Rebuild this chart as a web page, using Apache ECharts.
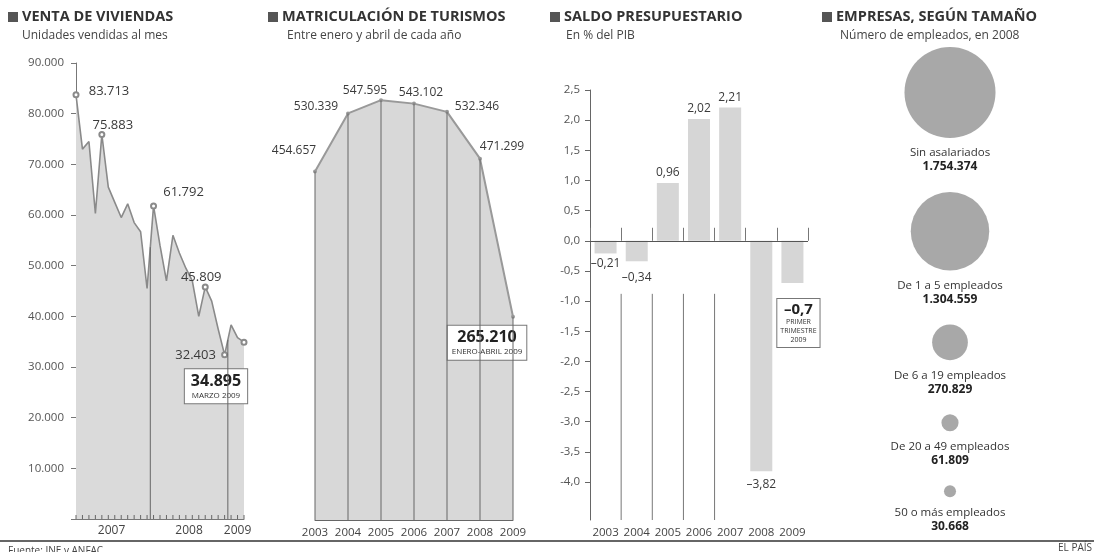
<!DOCTYPE html>
<html><head><meta charset="utf-8">
<script src="https://cdn.jsdelivr.net/npm/echarts@6/dist/echarts.min.js"></script>
<style>html,body{margin:0;padding:0;background:#fff;}#c{width:1094px;height:552px;}</style>
</head><body><div id="c"></div>
<script>
// ---------- DATA ----------
// Panel 1: Venta de viviendas (monthly, Jan 2007 - Mar 2009)
const ventaYears = ['2007', '2008', '2009'];
const ventaMonthsPerYear = [12, 12, 3];
const ventaValues = [83713, 73000, 74500, 60300, 75883, 65500, 62500, 59500, 62200, 58500, 56700, 45500,
                     61792, 54000, 47000, 56000, 52500, 49500, 47000, 40000, 45809, 43000, 37500, 32403,
                     38300, 35800, 34895];
const ventaAnnotated = [0, 4, 12, 20, 23, 26];
// Panel 2: Matriculación de turismos
const matricYears = ['2003', '2004', '2005', '2006', '2007', '2008', '2009'];
const matricValues = [454657, 530339, 547595, 543102, 532346, 471299, 265210];
// Panel 3: Saldo presupuestario (% PIB)
const saldoYears = ['2003', '2004', '2005', '2006', '2007', '2008', '2009'];
const saldoValues = [-0.21, -0.34, 0.96, 2.02, 2.21, -3.82, -0.7];
const saldoTicks = [2.5, 2.0, 1.5, 1.0, 0.5, 0.0, -0.5, -1.0, -1.5, -2.0, -2.5, -3.0, -3.5, -4.0];
// Panel 4: Empresas según tamaño
const empresasNames = ['Sin asalariados', 'De 1 a 5 empleados', 'De 6 a 19 empleados', 'De 20 a 49 empleados', '50 o más empleados'];
const empresasValues = [1754374, 1304559, 270829, 61809, 30668];

// ---------- HELPERS ----------
const FONT = '"Open Sans", "DejaVu Sans", sans-serif';
const TXT = '#3a3a3a';
const fmtK = v => String(v).replace(/\B(?=(\d{3})+(?!\d))/g, '.');
const fmtDec = (v, d) => (v < 0 ? '–' : '') + Math.abs(v).toFixed(d).replace('.', ',');

// Panel 1 axis helpers
let acc = 0;
const yearCenters = [], yearBounds = [];
ventaMonthsPerYear.forEach((n, k) => {
  yearCenters.push(acc + (n - 1) / 2);
  acc += n;
  if (k < ventaMonthsPerYear.length - 1) yearBounds.push(acc - 0.5);
});
const yearLabelMap = {};
yearCenters.forEach((c, k) => yearLabelMap[c] = ventaYears[k]);
const monthTickData = ventaValues.map((v, i) => [i]);

// label placement (style)
const ventaLabelOffsets = {0: [33, -4], 4: [11, -9], 12: [30, -14], 20: [-4, -10], 23: [-29, 0]};
const matricLabelOffsets = [[-21, -21], [-32, -7], [-16, -10], [7, -11], [30, -5], [22, -12]];

const ventaData = ventaValues.map((v, i) => {
  const annotated = ventaAnnotated.indexOf(i) >= 0;
  const item = {value: [i, v], symbol: annotated ? 'emptyCircle' : 'none', symbolSize: 5};
  if (annotated) {
    if (i === ventaValues.length - 1) {
      item.label = {show: true, position: 'inside', offset: [-28, 44],
        formatter: '{b|' + fmtK(v) + '}\n{s|MARZO 2009}',
        backgroundColor: '#fff', borderColor: '#777', borderWidth: 1, padding: [3, 6, 2, 6],
        rich: {b: {fontFamily: FONT, fontWeight: 'bold', fontSize: 16, color: '#222', lineHeight: 18, align: 'center'},
               s: {fontFamily: FONT, fontSize: 8, color: '#333', lineHeight: 11, align: 'center'}}};
    } else {
      item.label = {show: true, position: 'inside', offset: ventaLabelOffsets[i], formatter: fmtK(v),
        fontFamily: FONT, fontSize: 13, color: TXT};
    }
  }
  return item;
});
const dividerData = yearBounds.map(b => {
  const lo = Math.floor(b), hi = Math.ceil(b);
  return [b, (ventaValues[lo] + ventaValues[hi]) / 2];
});

const matricData = matricValues.map((v, i) => {
  const item = {value: v};
  if (i === matricValues.length - 1) {
    item.label = {show: true, position: 'inside', offset: [-26, 26],
      formatter: '{b|' + fmtK(v) + '}\n{s|ENERO-ABRIL 2009}',
      backgroundColor: '#fff', borderColor: '#777', borderWidth: 1, padding: [3, 4, 2, 4],
      rich: {b: {fontFamily: FONT, fontWeight: 'bold', fontSize: 16, color: '#222', lineHeight: 18, align: 'center'},
             s: {fontFamily: FONT, fontSize: 8, color: '#333', lineHeight: 11, align: 'center'}}};
  } else {
    item.label = {show: true, position: 'inside', offset: matricLabelOffsets[i], formatter: fmtK(v),
      fontFamily: FONT, fontSize: 12, color: TXT};
  }
  return item;
});

const saldoData = saldoValues.map((v, i) => {
  const item = {value: v};
  if (i === saldoValues.length - 1) {
    item.label = {show: true, position: 'bottom', distance: 16, offset: [6, 0],
      formatter: '{b|' + fmtDec(v, 1) + '}\n{s|PRIMER}\n{s|TRIMESTRE}\n{s|2009}',
      backgroundColor: '#fff', borderColor: '#777', borderWidth: 1, padding: [2, 3, 2, 3],
      rich: {b: {fontFamily: FONT, fontWeight: 'bold', fontSize: 15, color: '#222', lineHeight: 17, align: 'center'},
             s: {fontFamily: FONT, fontSize: 7, color: '#333', lineHeight: 9, align: 'center'}}};
  } else {
    item.label = {show: true, position: v >= 0 ? 'top' : 'bottom',
      distance: i === 1 ? 10 : (i === 5 ? 7 : 4), formatter: fmtDec(v, 2),
      fontFamily: FONT, fontSize: 12, color: TXT};
  }
  return item;
});

const R = 45.5, GAP = 54;
let cursor = 7;
const empresasData = empresasValues.map((v, i) => {
  const r = R * Math.sqrt(v / empresasValues[0]);
  const cy = cursor + r;
  cursor = cy + r + GAP;
  return {name: empresasNames[i], value: [0.5, cy], raw: v, symbolSize: 2 * r};
});

// ---------- CHART ----------
const chart = echarts.init(document.getElementById('c'));
const titleEls = [];
[[8, 'VENTA DE VIVIENDAS', 'Unidades vendidas al mes', 22],
 [268, 'MATRICULACIÓN DE TURISMOS', 'Entre enero y abril de cada año', 287],
 [550, 'SALDO PRESUPUESTARIO', 'En % del PIB', 566],
 [822, 'EMPRESAS, SEGÚN TAMAÑO', 'Número de empleados, en 2008', 840]].forEach(t => {
  titleEls.push({type: 'rect', shape: {x: t[0], y: 12, width: 10, height: 10}, style: {fill: '#555'}});
  titleEls.push({type: 'text', x: t[0] + 14, y: 17, style: {text: t[1], font: 'bold 14.5px ' + FONT, fill: '#333', textVerticalAlign: 'middle'}});
  titleEls.push({type: 'text', x: t[3], y: 36, style: {text: t[2], font: '12px ' + FONT, fill: '#444', textVerticalAlign: 'middle'}});
});
titleEls.push({type: 'line', shape: {x1: 0, y1: 541, x2: 1094, y2: 541}, style: {stroke: '#333', lineWidth: 1.5}});
titleEls.push({type: 'text', x: 8, y: 551, style: {text: 'Fuente: INE y ANFAC', font: '10px ' + FONT, fill: '#444', textVerticalAlign: 'middle'}});
titleEls.push({type: 'text', x: 1092, y: 548, style: {text: 'EL PAÍS', font: '10px ' + FONT, fill: '#444', textAlign: 'right', textVerticalAlign: 'middle'}});

chart.setOption({
  animation: false,
  backgroundColor: '#fff',
  textStyle: {fontFamily: FONT},
  graphic: {elements: titleEls},
  grid: [
    {left: 76, top: 63, width: 168, height: 456},
    {left: 315, top: 60, width: 198, height: 460},
    {left: 590, top: 90, width: 218, height: 430},
    {left: 900, top: 40, width: 100, height: 500}
  ],
  xAxis: [
    {gridIndex: 0, type: 'value', min: 0, max: ventaValues.length - 1,
     axisLine: {lineStyle: {color: '#777'}},
     axisTick: {show: false},
     axisLabel: {customValues: yearCenters, formatter: v => yearLabelMap[v] || '', color: '#444', fontSize: 12, margin: 6, fontFamily: FONT},
     splitLine: {show: false}},
    {gridIndex: 1, type: 'category', boundaryGap: false, data: matricYears,
     axisLine: {lineStyle: {color: '#666'}}, axisTick: {show: false},
     axisLabel: {interval: 0, color: '#444', fontSize: 11.5, margin: 7, fontFamily: FONT}},
    {gridIndex: 2, type: 'category', data: saldoYears,
     axisLine: {show: false},
     axisTick: {show: true, inside: true, length: 13, lineStyle: {color: '#777'}},
     axisLabel: {interval: 0, color: '#444', fontSize: 11.5, margin: 7, fontFamily: FONT}},
    {gridIndex: 3, type: 'value', min: 0, max: 1, show: false}
  ],
  yAxis: [
    {gridIndex: 0, type: 'value', min: 0, max: 90000, interval: 10000,
     axisLine: {show: true, lineStyle: {color: '#777'}},
     axisTick: {show: true, length: 5, lineStyle: {color: '#777'}},
     axisLabel: {formatter: v => v === 0 ? '' : fmtK(v), color: '#555', fontSize: 11.5, margin: 12, fontFamily: FONT},
     splitLine: {show: false}},
    {gridIndex: 1, type: 'value', min: 0, max: 600000, show: false},
    {gridIndex: 2, type: 'value', min: -4.63, max: 2.5,
     axisLine: {show: true, lineStyle: {color: '#666'}},
     axisTick: {show: true, length: 5, customValues: saldoTicks, lineStyle: {color: '#666'}},
     axisLabel: {customValues: saldoTicks, formatter: v => v.toFixed(1).replace('.', ','), color: '#555', fontSize: 11.5, margin: 10, fontFamily: FONT},
     splitLine: {show: false}},
    {gridIndex: 3, type: 'value', min: 0, max: 500, inverse: true, show: false}
  ],
  series: [
    {type: 'line', xAxisIndex: 0, yAxisIndex: 0, data: ventaData,
     lineStyle: {color: '#8a8a8a', width: 1.6}, itemStyle: {color: '#8a8a8a', borderColor: '#8a8a8a'},
     areaStyle: {color: '#dadada', opacity: 1}, emphasis: {disabled: true}, z: 2},
    {type: 'custom', xAxisIndex: 0, yAxisIndex: 0, data: dividerData, z: 3, silent: true,
     renderItem: (params, api) => {
       const p1 = api.coord([api.value(0), api.value(1)]);
       const p0 = api.coord([api.value(0), 0]);
       return {type: 'line', shape: {x1: p0[0], y1: p0[1], x2: p1[0], y2: p1[1]}, style: {stroke: '#666', lineWidth: 1}};
     }},
    {type: 'custom', xAxisIndex: 0, yAxisIndex: 0, data: monthTickData, z: 4, silent: true, clip: false,
     renderItem: (params, api) => {
       const p = api.coord([api.value(0), 0]);
       return {type: 'line', shape: {x1: p[0], y1: p[1], x2: p[0], y2: p[1] - 4}, style: {stroke: '#666', lineWidth: 1}};
     }},
    {type: 'line', xAxisIndex: 1, yAxisIndex: 1, data: matricData,
     symbol: 'circle', symbolSize: 4,
     lineStyle: {color: '#999', width: 2}, itemStyle: {color: '#999'},
     areaStyle: {color: '#d8d8d8', opacity: 1}, emphasis: {disabled: true}, z: 2},
    {type: 'bar', xAxisIndex: 1, yAxisIndex: 1, data: matricValues, barWidth: 1,
     itemStyle: {color: '#666'}, silent: true, z: 3},
    {type: 'bar', xAxisIndex: 2, yAxisIndex: 2, data: saldoData, barWidth: 22,
     itemStyle: {color: '#d6d6d6'}, emphasis: {disabled: true},
     markLine: {symbol: 'none', silent: true, label: {show: false}, data: [{yAxis: 0}],
                lineStyle: {color: '#555', type: 'solid', width: 1}}},
    {type: 'custom', xAxisIndex: 2, yAxisIndex: 2, data: [[0], [1], [2], [3]], silent: true,
     renderItem: (params, api) => {
       const half = api.size([1, 0])[0] / 2;
       const top = api.coord([api.value(0), -0.88]);
       const bot = api.coord([api.value(0), -4.63]);
       const x = top[0] + half;
       return {type: 'line', shape: {x1: x, y1: top[1], x2: x, y2: bot[1]}, style: {stroke: '#777', lineWidth: 1}};
     }},
    {type: 'scatter', xAxisIndex: 3, yAxisIndex: 3, data: empresasData, symbol: 'circle',
     itemStyle: {color: '#a8a8a8', opacity: 1}, emphasis: {disabled: true},
     label: {show: true, position: 'bottom', distance: 8,
       formatter: p => '{n|' + p.name + '}\n{v|' + fmtK(p.data.raw) + '}',
       rich: {n: {fontFamily: FONT, fontSize: 11.5, color: '#333', lineHeight: 14, align: 'center'},
              v: {fontFamily: FONT, fontSize: 12, fontWeight: 'bold', color: '#222', lineHeight: 14, align: 'center'}}}}
  ]
});
</script>
</body></html>
